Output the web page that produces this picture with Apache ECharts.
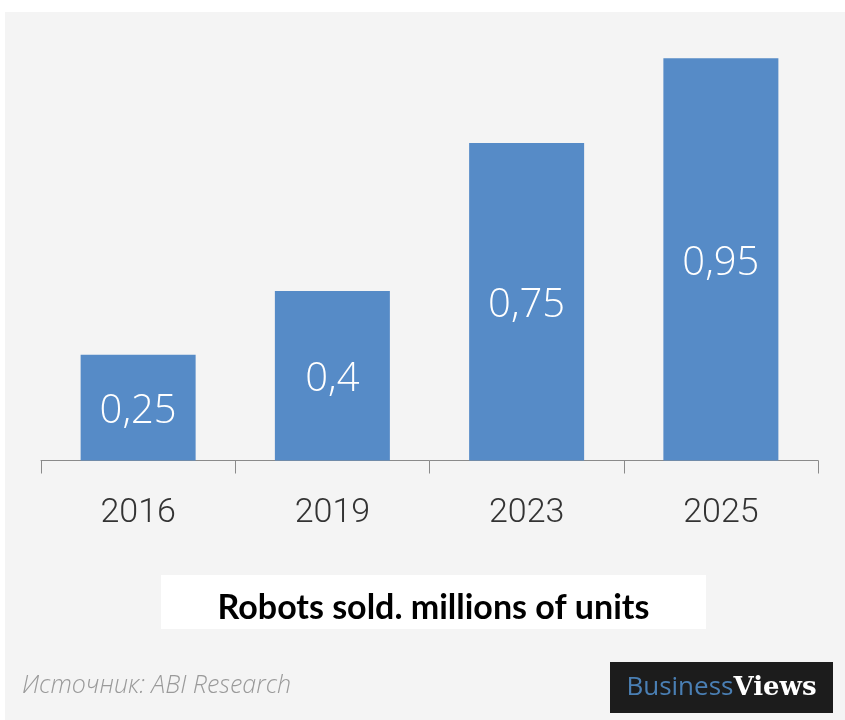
<!DOCTYPE html>
<html>
<head>
<meta charset="utf-8">
<script src="https://cdn.jsdelivr.net/npm/echarts@6/dist/echarts.min.js"></script>
<style>
  html, body { margin: 0; padding: 0; background: #ffffff; }
  #chart { width: 845px; height: 720px; }
</style>
</head>
<body>
<div id="chart"></div>
<script>
// Years on the category axis and robots sold (millions of units)
const years = ['2016', '2019', '2023', '2025'];
const robotsSold = [0.25, 0.4, 0.75, 0.95];
const chartTitle = 'Robots sold. millions of units';
const sourceText = 'Источник: ABI Research';

const chart = echarts.init(document.getElementById('chart'), null, { renderer: 'canvas' });

chart.setOption({
  backgroundColor: '#f4f4f4',
  animation: false,
  grid: { left: 41, right: 27, top: 37, bottom: 259.5, containLabel: false },
  xAxis: {
    type: 'category',
    data: years,
    boundaryGap: true,
    axisLine: { show: true, lineStyle: { color: '#8a8a8a', width: 1 } },
    axisTick: { show: true, length: 13, lineStyle: { color: '#8a8a8a', width: 1 } },
    axisLabel: {
      color: '#333333',
      fontFamily: 'Roboto',
      fontWeight: 300,
      fontSize: 34,
      margin: 36
    }
  },
  yAxis: {
    type: 'value',
    min: 0,
    max: 1,
    show: false,
    splitLine: { show: false }
  },
  series: [{
    type: 'bar',
    data: robotsSold,
    barWidth: 115,
    itemStyle: { color: '#568bc7' },
    label: {
      show: true,
      position: 'inside',
      offset: [0, 4],
      color: '#ffffff',
      fontFamily: 'Open Sans',
      fontWeight: 300,
      fontSize: 40,
      formatter: p => String(p.value).replace('.', ',')
    }
  }],
  graphic: [
    // white margin strips around the grey panel
    { type: 'rect', left: 0, top: 0, shape: { width: 845, height: 12 }, style: { fill: '#ffffff' }, z: -10 },
    { type: 'rect', left: 0, top: 0, shape: { width: 5, height: 720 }, style: { fill: '#ffffff' }, z: -10 },
    // title box
    { type: 'rect', left: 161, top: 575, shape: { width: 545, height: 54 }, style: { fill: '#ffffff' }, z: 5 },
    {
      type: 'text', x: 433.5, y: 608, z: 6,
      style: {
        text: chartTitle,
        fill: '#000000',
        font: 'bold 34px "Lato", "Liberation Sans", sans-serif',
        textAlign: 'center',
        textVerticalAlign: 'middle'
      }
    },
    // source note
    {
      type: 'text', x: 22, y: 686, z: 6,
      style: {
        text: sourceText,
        fill: '#9a9a9a',
        font: 'italic 300 25px "Open Sans", sans-serif',
        textAlign: 'left',
        textVerticalAlign: 'middle'
      }
    },
    // logo badge
    { type: 'rect', left: 610, top: 662, shape: { width: 223, height: 51 }, style: { fill: '#1c1c1c' }, z: 5 },
    {
      type: 'text', x: 721.5, y: 688, z: 6,
      style: {
        text: '{b|Business}{v|Views}',
        textAlign: 'center',
        textVerticalAlign: 'middle',
        rich: {
          b: { fill: '#4a7fb4', font: '26px "Open Sans", sans-serif' },
          v: { fill: '#ffffff', font: 'bold 26px "DejaVu Serif", serif' }
        }
      }
    }
  ]
});
</script>
</body>
</html>
